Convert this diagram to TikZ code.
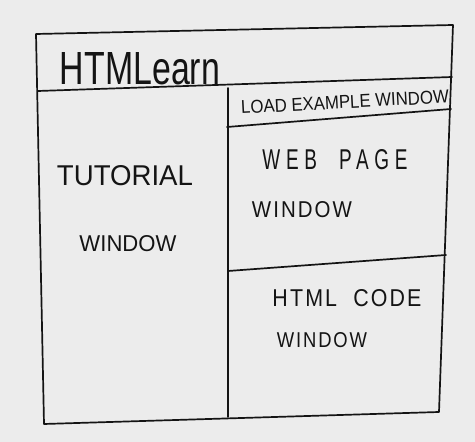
\documentclass[tikz,border=0pt]{standalone}
\usepackage{fontspec}
\usepackage{graphicx}
\setmainfont{Liberation Sans}
\definecolor{paper}{RGB}{236,236,236}
\definecolor{ink}{RGB}{20,20,20}
\newcommand{\hw}[3]{\resizebox{#1pt}{#2pt}{#3}}
\tikzset{
  pen/.style={draw=ink, line width=1.7pt, line cap=round, line join=round},
  lbl/.style={inner sep=0pt, text=ink}
}
\begin{document}
\begin{tikzpicture}[x=1pt,y=1pt]
\fill[paper] (0,0) rectangle (475,442);
\useasboundingbox (0,0) rectangle (475,442);
% outer frame corners
\coordinate (tl) at (36,408);
\coordinate (tr) at (453,417);
\coordinate (br) at (439,30);
\coordinate (bl) at (44,18);
\draw[pen] (tl) -- (tr) -- (br) -- (bl) -- cycle;
% title bar bottom
\coordinate (t1) at (38,351);
\coordinate (t2) at (452,365);
\draw[pen] (t1) -- (t2);
% vertical divider
\coordinate (v1) at (228,354);
\coordinate (v2) at (228,25);
\draw[pen] (v1) -- (v2);
% load example bar bottom
\coordinate (l1) at (227,315);
\coordinate (l2) at (451,333);
\draw[pen] (l1) -- (l2);
% web / html divider
\coordinate (h1) at (228,171);
\coordinate (h2) at (446,187);
\draw[pen] (h1) -- (h2);
% texts
\node[lbl] (title) at (140,373) {\hw{160}{32}{HTMLearn}};
\node[lbl, rotate=3] (load) at (345,340) {\hw{208}{13}{LOAD EXAMPLE WINDOW}};
\node[lbl] (tut) at (125,266) {\hw{136}{20}{TUTORIAL}};
\node[lbl] (tutw) at (128,198) {\hw{97}{16}{WINDOW}};
\node[lbl] (web) at (335,282) {\hw{145}{20}{\addfontfeatures{LetterSpace=30}WEB\ \ PAGE}};
\node[lbl] (webw) at (302,232) {\hw{100}{16}{\addfontfeatures{LetterSpace=10}WINDOW}};
\node[lbl] (code) at (347,144) {\hw{149}{17}{\addfontfeatures{LetterSpace=10}HTML\ \ CODE}};
\node[lbl] (codew) at (322,102) {\hw{90}{15}{\addfontfeatures{LetterSpace=10}WINDOW}};
\end{tikzpicture}
\end{document}
